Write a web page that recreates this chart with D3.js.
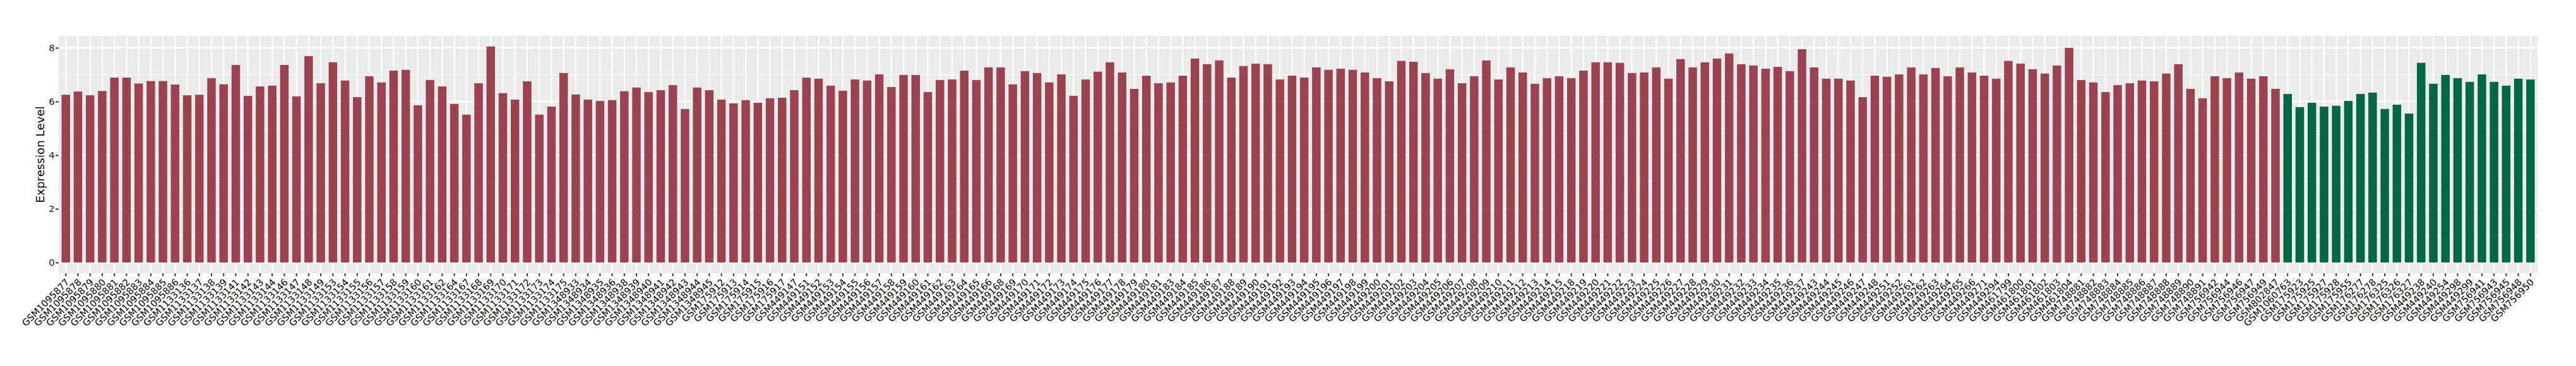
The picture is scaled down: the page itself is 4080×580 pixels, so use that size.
<!DOCTYPE html>
<html>
<head>
<meta charset="utf-8">
<script src="https://cdn.jsdelivr.net/npm/d3@7"></script>
<style>
  body { margin: 0; background: #fff; }
  text { font-family: "DejaVu Sans", sans-serif; }
</style>
</head>
<body>
<svg id="chart" width="4080" height="580"></svg>
<script>
// samples of the first group (red), sorted as in the plot
const redSamples = [
  "GSM1095877","GSM1095878","GSM1095879","GSM1095880","GSM1095881","GSM1095882","GSM1095883","GSM1095884","GSM1095885","GSM1095886",
  "GSM1133136","GSM1133137","GSM1133138","GSM1133139","GSM1133141","GSM1133142","GSM1133143","GSM1133144","GSM1133146","GSM1133147",
  "GSM1133148","GSM1133149","GSM1133153","GSM1133154","GSM1133155","GSM1133156","GSM1133157","GSM1133158","GSM1133159","GSM1133160",
  "GSM1133161","GSM1133162","GSM1133164","GSM1133167","GSM1133168","GSM1133169","GSM1133170","GSM1133171","GSM1133172","GSM1133173",
  "GSM1133174","GSM1133175","GSM1348933","GSM1348934","GSM1348935","GSM1348936","GSM1348938","GSM1348939","GSM1348940","GSM1348941",
  "GSM1348942","GSM1348943","GSM1348944","GSM1348945","GSM175912","GSM175913","GSM175914","GSM175915","GSM175916","GSM175917",
  "GSM449147","GSM449151","GSM449152","GSM449153","GSM449154","GSM449155","GSM449156","GSM449157","GSM449158","GSM449159",
  "GSM449160","GSM449161","GSM449162","GSM449163","GSM449164","GSM449165","GSM449166","GSM449168","GSM449169","GSM449170",
  "GSM449171","GSM449172","GSM449173","GSM449174","GSM449175","GSM449176","GSM449177","GSM449178","GSM449179","GSM449180",
  "GSM449181","GSM449183","GSM449184","GSM449185","GSM449186","GSM449187","GSM449188","GSM449189","GSM449190","GSM449191",
  "GSM449192","GSM449193","GSM449194","GSM449195","GSM449196","GSM449197","GSM449198","GSM449199","GSM449200","GSM449201",
  "GSM449202","GSM449203","GSM449204","GSM449205","GSM449206","GSM449207","GSM449208","GSM449209","GSM449210","GSM449211",
  "GSM449212","GSM449213","GSM449214","GSM449215","GSM449218","GSM449219","GSM449220","GSM449221","GSM449222","GSM449223",
  "GSM449224","GSM449225","GSM449226","GSM449227","GSM449228","GSM449229","GSM449230","GSM449231","GSM449232","GSM449233",
  "GSM449234","GSM449235","GSM449236","GSM449237","GSM449243","GSM449244","GSM449245","GSM449246","GSM449247","GSM449248",
  "GSM449251","GSM449252","GSM449261","GSM449262","GSM449263","GSM449264","GSM449265","GSM449266","GSM449271","GSM449294",
  "GSM461799","GSM461800","GSM461801","GSM461802","GSM461803","GSM461804","GSM748881","GSM748882","GSM748883","GSM748884",
  "GSM748885","GSM748886","GSM748887","GSM748888","GSM748889","GSM748890","GSM748891","GSM756942","GSM756944","GSM756946",
  "GSM756947","GSM756949","GSM802847"
];
const redValues = [
  6.25,6.37,6.23,6.39,6.89,6.89,6.67,6.76,6.76,6.63,
  6.23,6.25,6.87,6.64,7.36,6.21,6.56,6.59,7.36,6.19,
  7.69,6.68,7.46,6.78,6.16,6.94,6.71,7.15,7.18,5.86,
  6.80,6.56,5.91,5.51,6.68,8.05,6.31,6.07,6.75,5.51,
  5.81,7.06,6.26,6.07,6.02,6.05,6.38,6.52,6.35,6.42,
  6.61,5.72,6.52,6.42,6.07,5.93,6.05,5.95,6.12,6.14,
  6.42,6.89,6.85,6.59,6.40,6.82,6.78,7.01,6.54,6.99,
  6.99,6.35,6.80,6.82,7.15,6.80,7.27,7.27,6.64,7.13,
  7.06,6.71,7.01,6.21,6.82,7.11,7.46,7.08,6.47,6.96,
  6.68,6.71,6.96,7.60,7.39,7.53,6.89,7.32,7.41,7.39,
  6.82,6.96,6.89,7.27,7.18,7.22,7.18,7.08,6.87,6.75,
  7.51,7.48,7.06,6.85,7.20,6.68,6.94,7.53,6.82,7.27,
  7.08,6.66,6.87,6.94,6.87,7.15,7.46,7.46,7.44,7.06,
  7.08,7.27,6.85,7.58,7.27,7.46,7.60,7.79,7.39,7.34,
  7.22,7.29,7.13,7.95,7.27,6.85,6.85,6.78,6.16,6.96,
  6.92,7.01,7.27,7.01,7.25,6.94,7.27,7.08,6.96,6.85,
  7.51,7.41,7.20,7.04,7.34,8.00,6.80,6.71,6.35,6.61,
  6.68,6.78,6.75,7.04,7.39,6.47,6.12,6.94,6.87,7.08,
  6.85,6.94,6.47
];
// samples of the second group (green)
const greenSamples = [
  "GSM1060763","GSM175923","GSM175925","GSM175927","GSM175928","GSM175955","GSM176277","GSM176278","GSM176325","GSM176326",
  "GSM176327","GSM449238","GSM449240","GSM449254","GSM449298","GSM449299","GSM756941","GSM756943","GSM756945","GSM756948",
  "GSM756950"
];
const greenValues = [
  6.28,5.79,5.95,5.81,5.84,6.02,6.28,6.33,5.72,5.88,
  5.55,7.44,6.66,6.99,6.87,6.73,7.01,6.73,6.59,6.85,
  6.82
];
const yTicks = [0, 2, 4, 6, 8];
const yMinor = [1, 3, 5, 7];
const groupColors = { red: "#9a4250", green: "#006643" };

const rows = redSamples.map((s, i) => ({ id: s, value: redValues[i], group: "red" }))
  .concat(greenSamples.map((s, i) => ({ id: s, value: greenValues[i], group: "green" })));

const svg = d3.select("#chart");
const panelLeft = 92.7, panelRight = 4019.4, panelTop = 56.5, panelBottom = 433.1;

const maxVal = d3.max(rows, d => d.value);
const x = d3.scaleBand()
  .domain(rows.map(d => d.id))
  .range([panelLeft, panelRight])
  .paddingInner(0.3)
  .paddingOuter(0.25);
const y = d3.scaleLinear()
  .domain([-maxVal * 0.05, maxVal * 1.05])
  .range([panelBottom, panelTop]);

svg.append("rect")
  .attr("width", 4080).attr("height", 580).attr("fill", "#fff");

// panel
svg.append("rect")
  .attr("x", panelLeft).attr("y", panelTop)
  .attr("width", panelRight - panelLeft).attr("height", panelBottom - panelTop)
  .attr("fill", "#ebebeb");

const grid = svg.append("g").attr("stroke", "#fff");
grid.selectAll(".minor")
  .data(yMinor)
  .enter().append("line")
  .attr("x1", panelLeft).attr("x2", panelRight)
  .attr("y1", d => y(d)).attr("y2", d => y(d))
  .attr("stroke-width", 1.2);
grid.selectAll(".major")
  .data(yTicks)
  .enter().append("line")
  .attr("x1", panelLeft).attr("x2", panelRight)
  .attr("y1", d => y(d)).attr("y2", d => y(d))
  .attr("stroke-width", 2.3);
grid.selectAll(".vert")
  .data(rows)
  .enter().append("line")
  .attr("x1", d => x(d.id) + x.bandwidth() / 2)
  .attr("x2", d => x(d.id) + x.bandwidth() / 2)
  .attr("y1", panelTop).attr("y2", panelBottom)
  .attr("stroke-width", 2.3);

svg.append("g")
  .selectAll("rect")
  .data(rows)
  .enter().append("rect")
  .attr("x", d => x(d.id))
  .attr("width", x.bandwidth())
  .attr("y", d => y(d.value))
  .attr("height", d => y(0) - y(d.value))
  .attr("fill", d => groupColors[d.group]);

// y axis
const yAxis = svg.append("g")
  .attr("transform", `translate(${panelLeft},0)`)
  .call(d3.axisLeft(y).tickValues(yTicks).tickSize(4.6).tickPadding(1.6));
yAxis.select(".domain").remove();
yAxis.selectAll("line").attr("stroke", "#333").attr("stroke-width", 2);
yAxis.selectAll("text")
  .attr("fill", "#1a1a1a")
  .style("font-size", "14.7px")
  .style("font-family", "DejaVu Sans");

// x axis
const xAxis = svg.append("g")
  .attr("transform", `translate(0,${panelBottom})`)
  .call(d3.axisBottom(x).tickSize(4.6));
xAxis.select(".domain").remove();
xAxis.selectAll("line").attr("stroke", "#333").attr("stroke-width", 2);
xAxis.selectAll("text")
  .attr("fill", "#000")
  .style("font-size", "14.7px")
  .style("font-family", "DejaVu Sans")
  .attr("text-anchor", "end")
  .attr("x", 6.5)
  .attr("y", 15)
  .attr("dy", null)
  .attr("transform", "rotate(-45 6.5 15)");

svg.append("text")
  .attr("transform", `translate(70,${(panelTop + panelBottom) / 2}) rotate(-90)`)
  .attr("text-anchor", "middle")
  .style("font-size", "18.3px")
  .attr("fill", "#000")
  .text("Expression Level");
</script>
</body>
</html>
